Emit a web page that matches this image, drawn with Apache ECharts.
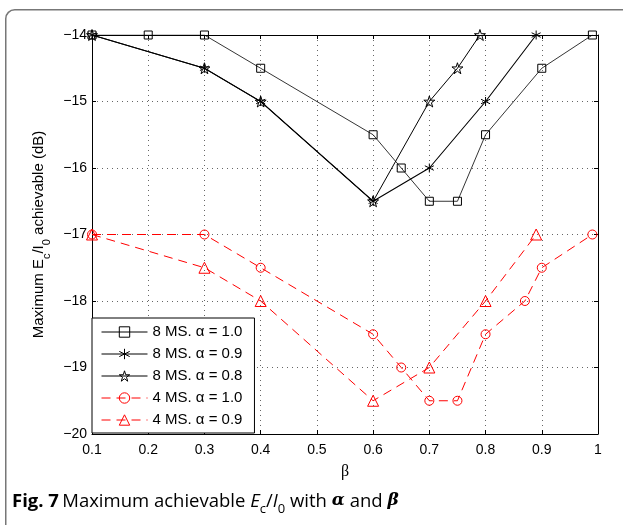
<!DOCTYPE html>
<html>
<head>
<meta charset="utf-8">
<script src="https://cdn.jsdelivr.net/npm/echarts@6/dist/echarts.min.js"></script>
<style>
html,body{margin:0;padding:0;background:#fff;}
#chart{width:623px;height:525px;}
</style>
</head>
<body>
<div id="chart"></div>
<script>
// ---- data ----
const xTicks = [0.1, 0.2, 0.3, 0.4, 0.5, 0.6, 0.7, 0.8, 0.9, 1];
const yTicks = [-20, -19, -18, -17, -16, -15, -14];

const names = ['8 MS. \u03B1 = 1.0', '8 MS. \u03B1 = 0.9', '8 MS. \u03B1 = 0.8', '4 MS. \u03B1 = 1.0', '4 MS. \u03B1 = 0.9'];

const ms8a10_x = [0.1, 0.2, 0.3, 0.4, 0.6, 0.65, 0.7, 0.75, 0.8, 0.9, 0.99];
const ms8a10_y = [-14, -14, -14, -14.5, -15.5, -16, -16.5, -16.5, -15.5, -14.5, -14];

const ms8a09_x = [0.1, 0.3, 0.4, 0.6, 0.7, 0.8, 0.89];
const ms8a09_y = [-14, -14.5, -15, -16.5, -16, -15, -14];

const ms8a08_x = [0.1, 0.3, 0.4, 0.6, 0.7, 0.75, 0.79];
const ms8a08_y = [-14, -14.5, -15, -16.5, -15, -14.5, -14];

const ms4a10_x = [0.1, 0.3, 0.4, 0.6, 0.65, 0.7, 0.75, 0.8, 0.87, 0.9, 0.99];
const ms4a10_y = [-17, -17, -17.5, -18.5, -19, -19.5, -19.5, -18.5, -18, -17.5, -17];

const ms4a09_x = [0.1, 0.3, 0.4, 0.6, 0.7, 0.8, 0.89];
const ms4a09_y = [-17, -17.5, -18, -19.5, -19, -18, -17];

const zip = (xs, ys) => xs.map((x, i) => [x, ys[i]]);

// ---- symbols ----
const asteriskPath = 'path://M50,0L50,100M6.7,25L93.3,75M6.7,75L93.3,25';
const starPath = 'path://M100,0L122.45,69.1L195.1,69.1L136.3,111.8L158.8,180.9L100,138.2L41.2,180.9L63.7,111.8L4.9,69.1L77.55,69.1Z';

const chart = echarts.init(document.getElementById('chart'));
const font = 'Liberation Sans';
const RED = '#ff0000';
const CLEAR = 'rgba(0,0,0,0)';

function mk(name, data, symbol, size, color, lw, dashed) {
  return {
    name: name,
    type: 'line',
    data: data,
    symbol: symbol,
    symbolSize: size,
    showSymbol: true,
    animation: false,
    itemStyle: { color: CLEAR, borderColor: color, borderWidth: 1 },
    lineStyle: { color: color, width: lw, type: dashed ? [9, 6] : 'solid' },
    emphasis: { disabled: true }
  };
}

const minusFmt = v => (v < 0 ? '\u2212' + Math.abs(v) : String(v));
const box = { show: true, onZero: false, lineStyle: { color: '#000', width: 1 } };
const tick = { show: true, inside: true, length: 4, lineStyle: { color: '#000' } };
const grid = { show: true, lineStyle: { color: '#666', width: 1, type: [1, 4] } };

chart.setOption({
  animation: false,
  backgroundColor: '#fff',
  grid: { left: 92, right: 25, top: 35, bottom: 91, containLabel: false },
  xAxis: [{
    type: 'value', min: 0.1, max: 1, interval: 0.1,
    name: '\u03B2', nameLocation: 'middle', nameGap: 30,
    nameTextStyle: { fontFamily: 'Liberation Serif', fontSize: 16, color: '#000' },
    axisLine: box, axisTick: tick,
    axisLabel: { fontFamily: font, fontSize: 14, color: '#000', margin: 9,
      formatter: v => String(Math.round(v * 10) / 10) },
    splitLine: grid
  }, {
    type: 'value', position: 'top', min: 0.1, max: 1, interval: 0.1,
    axisLine: box, axisTick: tick, axisLabel: { show: false }, splitLine: { show: false }
  }],
  yAxis: [{
    type: 'value', min: -20, max: -14, interval: 1,
    name: '{n|Maximum E}{s|c}{n|/I}{s|0}{n| achievable (dB)}',
    nameLocation: 'middle', nameGap: 40, nameRotate: 90,
    nameTextStyle: {
      fontFamily: font, fontSize: 15, color: '#000',
      rich: {
        n: { fontFamily: font, fontSize: 15, color: '#000', lineHeight: 18, verticalAlign: 'top' },
        s: { fontFamily: font, fontSize: 11, color: '#000', lineHeight: 11, padding: [10, 0, 0, 0], verticalAlign: 'top' }
      }
    },
    axisLine: box, axisTick: tick,
    axisLabel: { fontFamily: font, fontSize: 14, color: '#000', margin: 5, formatter: minusFmt },
    splitLine: grid
  }, {
    type: 'value', position: 'right', min: -20, max: -14, interval: 1,
    axisLine: box, axisTick: tick, axisLabel: { show: false }, splitLine: { show: false }
  }],
  legend: {
    data: [
      { name: names[0], itemStyle: { color: CLEAR, borderColor: '#000', borderWidth: 1 } },
      { name: names[1], itemStyle: { color: CLEAR, borderColor: '#000', borderWidth: 1 } },
      { name: names[2], itemStyle: { color: CLEAR, borderColor: '#000', borderWidth: 1 } },
      { name: names[3], itemStyle: { color: CLEAR, borderColor: RED, borderWidth: 1 } },
      { name: names[4], itemStyle: { color: CLEAR, borderColor: RED, borderWidth: 1 } }
    ],
    orient: 'vertical',
    left: 92, top: 318,
    padding: [5, 12, 4, 9],
    itemWidth: 46, itemHeight: 13, itemGap: 4,
    lineStyle: { width: 1 },
    backgroundColor: '#fff',
    borderColor: '#000', borderWidth: 1, borderRadius: 0,
    textStyle: { fontFamily: font, fontSize: 15, color: '#000', lineHeight: 18 },
    selectedMode: false
  },
  series: [
    mk(names[0], zip(ms8a10_x, ms8a10_y), 'rect', 8, '#000', 0.8, false),
    mk(names[1], zip(ms8a09_x, ms8a09_y), asteriskPath, 9, '#000', 1.1, false),
    mk(names[2], zip(ms8a08_x, ms8a08_y), starPath, 11, '#000', 1, false),
    mk(names[3], zip(ms4a10_x, ms4a10_y), 'circle', 9, RED, 1, true),
    mk(names[4], zip(ms4a09_x, ms4a09_y), 'triangle', 11, RED, 1, true)
  ],
  graphic: [
    { type: 'rect', left: 5, top: 9, silent: true, z: -10,
      shape: { width: 660, height: 560, r: 9 },
      style: { fill: CLEAR, stroke: '#777', lineWidth: 1.5 } },
    { type: 'text', left: 12, top: 492, silent: true,
      style: {
        text: '{b|Fig. 7} {t|Maximum achievable }{i|E}{s|c}{t|/}{i|I}{s|0}{t| with }{m|\u03B1}{t| and }{m|\u03B2}',
        rich: {
          b: { fontFamily: 'Open Sans', fontWeight: 'bold', fontSize: 18.5, fill: '#000', lineHeight: 22, verticalAlign: 'top' },
          t: { fontFamily: 'Open Sans', fontSize: 18.5, fill: '#000', lineHeight: 22, verticalAlign: 'top' },
          i: { fontFamily: 'Open Sans', fontStyle: 'italic', fontSize: 18.5, fill: '#000', lineHeight: 22, verticalAlign: 'top' },
          m: { fontFamily: 'DejaVu Serif', fontStyle: 'italic', fontWeight: 'bold', fontSize: 17, fill: '#000', lineHeight: 22, verticalAlign: 'top' },
          s: { fontFamily: 'Open Sans', fontSize: 13, fill: '#000', lineHeight: 13, padding: [11, 0, 0, 0], verticalAlign: 'top' }
        }
      } }
  ]
});
</script>
</body>
</html>
